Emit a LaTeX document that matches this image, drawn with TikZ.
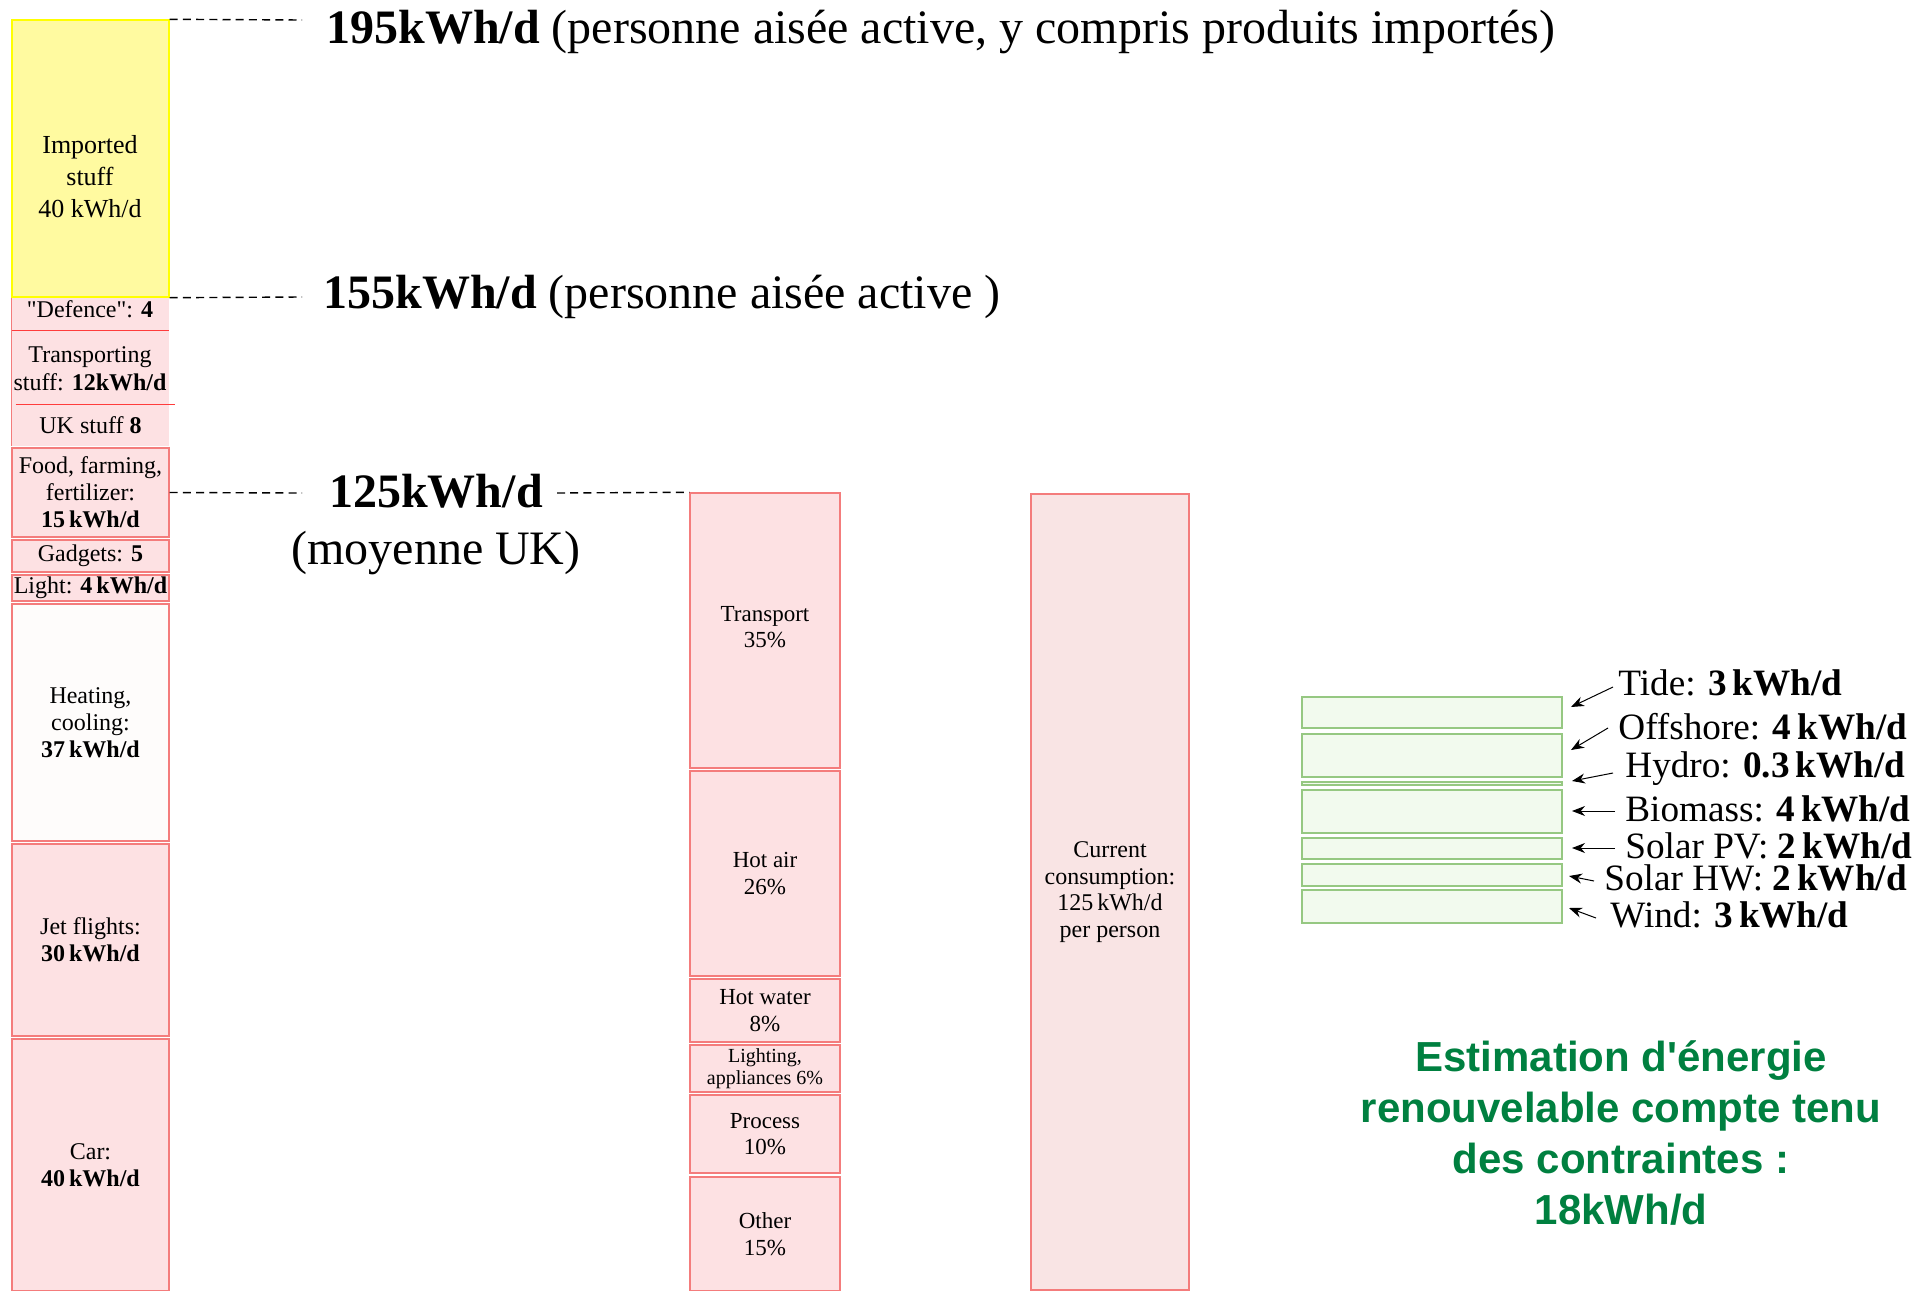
\documentclass[tikz,border=0pt]{standalone}
\usepackage{fontspec}
\setmainfont{Liberation Serif}
\newfontfamily\greenfont{Liberation Sans}
\usetikzlibrary{fit,arrows.meta}
\definecolor{pinkfill}{RGB}{253,225,227}
\definecolor{pinkline}{RGB}{244,124,124}
\definecolor{curfill}{RGB}{249,228,228}
\definecolor{yelfill}{RGB}{255,250,160}
\definecolor{yelline}{RGB}{255,255,0}
\definecolor{grfill}{RGB}{242,250,238}
\definecolor{grline}{RGB}{150,200,130}
\definecolor{grtext}{RGB}{0,128,64}
\definecolor{sepred}{RGB}{255,60,60}
\definecolor{whfill}{RGB}{254,252,251}
\begin{document}
\begin{tikzpicture}[x=0.5pt,y=-0.5pt,
  box/.style={draw=pinkline, fill=pinkfill, line width=0.7pt, inner sep=0pt},
  plain/.style={fill=pinkfill, inner sep=0pt},
  txt/.style={inner sep=0pt, align=center, font=\fontsize{12}{13.5}\selectfont},
  midtxt/.style={txt, font=\fontsize{11.5}{13.2}\selectfont},
  grbox/.style={draw=grline, fill=grfill, line width=0.7pt, inner sep=0pt},
  dashline/.style={draw=black, line width=0.7pt, dash pattern=on 4pt off 2.6pt},
  head/.style={inner sep=0pt, font=\fontsize{24}{28}\selectfont},
  lab/.style={anchor=west, inner sep=0pt, font=\fontsize{18.6}{20}\selectfont},
  arr/.style={draw=black, line width=0.5pt, -{Stealth[length=6.5pt,width=5pt]}}
]
\useasboundingbox (0,0) rectangle (1932,1290);

% ---------- left column ----------
\node[plain, fit={(12,298)(169,330)}] (def) {};
\node[plain, fit={(12,330)(169,404)}] (trans) {};
\node[plain, fit={(12,404)(169,446)}] (uk) {};
\node[txt] (deft) at (90,309) {\textquotedbl Defence\textquotedbl: \textbf{4}};
\node[txt, font=\fontsize{12}{14}\selectfont] (transt) at (90,369) {Transporting\\stuff: \textbf{12kWh/d}};
\node[txt] (ukt) at (uk) {UK stuff \textbf{8}};
\draw[pinkline, line width=0.5pt] (def.north west) -- (uk.south west);
\draw[sepred, line width=0.7pt] (def.south west) -- (def.south east);
\draw[sepred, line width=0.7pt] ([xshift=2]trans.south west) -- ([xshift=3]trans.south east);

\node[draw=yelline, fill=yelfill, line width=0.7pt, inner sep=0pt, fit={(12,20)(169,297)}] (imp) {};
\node[txt, font=\fontsize{13}{16}\selectfont] (impt) at (90,177) {Imported\\stuff\\40 kWh/d};

\node[box, fit={(12,448)(169,537)}] (food) {};
\node[txt] (foodt) at (food) {Food, farming,\\fertilizer:\\\textbf{15\,kWh/d}};
\node[box, fit={(12,540)(169,572)}] (gad) {};
\node[txt] (gadt) at (gad) {Gadgets: \textbf{5}};
\node[box, fit={(12,575)(169,601)}] (light) {};
\node[txt] (lightt) at (light) {Light: \textbf{4\,kWh/d}};
\node[box, fill=whfill, fit={(12,604)(169,841)}] (heat) {};
\node[txt] (heatt) at (heat) {Heating,\\cooling:\\\textbf{37\,kWh/d}};
\node[box, fit={(12,844)(169,1036)}] (jet) {};
\node[txt] (jett) at (jet) {Jet flights:\\\textbf{30\,kWh/d}};
\node[box, fit={(12,1039)(169,1291)}] (car) {};
\node[txt] (cart) at (car) {Car:\\\textbf{40\,kWh/d}};

% ---------- middle column ----------
\node[box, fit={(690,493)(840,768)}] (tr) {};
\node[midtxt] (trt) at (765,627) {Transport\\35\%};
\node[box, fit={(690,771)(840,976)}] (hair) {};
\node[midtxt] (hairt) at (hair) {Hot air\\26\%};
\node[box, fit={(690,979)(840,1042)}] (hw) {};
\node[midtxt] (hwt) at (hw) {Hot water\\8\%};
\node[box, fit={(690,1045)(840,1092)}] (lig) {};
\node[txt, font=\fontsize{10}{10.8}\selectfont] (ligt) at (lig) {Lighting,\\appliances 6\%};
\node[box, fit={(690,1095)(840,1173)}] (proc) {};
\node[midtxt] (proct) at (proc) {Process\\10\%};
\node[box, fit={(690,1177)(840,1291)}] (oth) {};
\node[midtxt] (otht) at (oth) {Other\\15\%};

\node[box, fill=curfill, fit={(1031,494)(1189,1290)}] (cur) {};
\node[txt, font=\fontsize{12}{13.4}\selectfont] (curt) at (cur) {Current\\consumption:\\125\,kWh/d\\per person};

% ---------- headings and dashed lines ----------
\node[head, anchor=west] (h195) at (326,32) {\textbf{195kWh/d} (personne aisée active, y compris produits importés)};
\node[head, anchor=west] (h155) at (323,297) {\textbf{155kWh/d} (personne aisée active )};
\node[head] (h125) at (436,491) {\textbf{125kWh/d}};
\node[head] (hmoy) at (436,553) {(moyenne UK)};

\coordinate (c195) at (302,20);
\coordinate (c155) at (302,297);
\coordinate (c125a) at (302,493);
\coordinate (c125b) at (557,493);
\draw[dashline] (imp.north east) -- (c195);
\draw[dashline] (imp.south east) -- (c155);
\draw[dashline] (food.east) -- (c125a);
\draw[dashline] (c125b) -- (tr.north west);

% ---------- renewables ----------
\node[grbox, fit={(1302,697)(1562,728)}] (gtide) {};
\node[grbox, fit={(1302,734)(1562,777)}] (goff) {};
\node[grbox, fit={(1302,782)(1562,785)}] (ghyd) {};
\node[grbox, fit={(1302,790)(1562,833)}] (gbio) {};
\node[grbox, fit={(1302,838)(1562,859)}] (gpv) {};
\node[grbox, fit={(1302,864)(1562,886)}] (ghw) {};
\node[grbox, fit={(1302,890)(1562,923)}] (gwind) {};

\node[lab] (ltide) at (1618,683) {Tide: \textbf{3\,kWh/d}};
\node[lab] (loff) at (1618,727) {Offshore: \textbf{4\,kWh/d}};
\node[lab] (lhyd) at (1625,769) {Hydro: \textbf{0.3\,kWh/d}};
\node[lab] (lbio) at (1625,809) {Biomass: \textbf{4\,kWh/d}};
\node[lab] (lpv) at (1625,846) {Solar PV: \textbf{2\,kWh/d}};
\node[lab] (lhw) at (1604,878) {Solar HW: \textbf{2\,kWh/d}};
\node[lab] (lwind) at (1610,915) {Wind: \textbf{3\,kWh/d}};

\coordinate (s1) at (1613,687); \coordinate (e1) at (1571,707);
\coordinate (s2) at (1608,728); \coordinate (e2) at (1571,750);
\coordinate (s3) at (1613,773); \coordinate (e3) at (1572,781);
\coordinate (s4) at (1615,811); \coordinate (e4) at (1572,811);
\coordinate (s5) at (1615,848); \coordinate (e5) at (1572,848);
\coordinate (s6) at (1594,881); \coordinate (e6) at (1569,876);
\coordinate (s7) at (1596,918); \coordinate (e7) at (1569,908);
\draw[arr] (s1) -- (e1);
\draw[arr] (s2) -- (e2);
\draw[arr] (s3) -- (e3);
\draw[arr] (s4) -- (e4);
\draw[arr] (s5) -- (e5);
\draw[arr] (s6) -- (e6);
\draw[arr] (s7) -- (e7);

\node[txt, text=grtext, font=\greenfont\bfseries\fontsize{21}{25.5}\selectfont] (est) at (1621,1133)
  {Estimation d\textquotesingle{}énergie\\renouvelable compte tenu\\des contraintes :\\18kWh/d};
\end{tikzpicture}
\end{document}
